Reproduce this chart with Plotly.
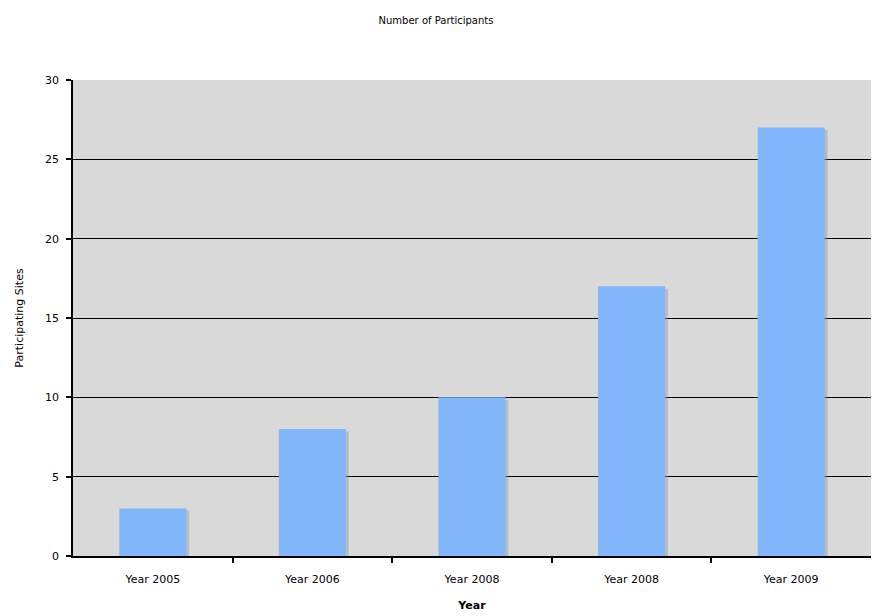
import plotly.graph_objects as go

categories = ["Year 2005", "Year 2006", "Year 2008", "Year 2008", "Year 2009"]
values = [3, 8, 10, 17, 27]
positions = list(range(len(categories)))
y_ticks = [0, 5, 10, 15, 20, 25, 30]

bar_w = 0.42
shadow_dx = 0.018

fig = go.Figure()
# soft shadow behind bars
fig.add_trace(go.Bar(
    x=positions, y=[v - 0.15 for v in values],
    width=bar_w, offset=-bar_w / 2 + shadow_dx,
    marker=dict(color="rgba(150,150,150,0.45)", line=dict(width=0)),
    hoverinfo="skip", showlegend=False,
))
fig.add_trace(go.Bar(
    x=positions, y=values,
    width=bar_w, offset=-bar_w / 2,
    marker=dict(color="#82b6fa", line=dict(width=0)),
    showlegend=False, name="Participating Sites",
))

fig.update_layout(
    width=872, height=616,
    margin=dict(l=73, r=1, t=80, b=60),
    paper_bgcolor="white",
    plot_bgcolor="#d9d9d9",
    barmode="overlay",
    font=dict(family="DejaVu Sans", size=11, color="black"),
    title=dict(text="Number of Participants", x=0.5, xanchor="center",
               y=0.966, yanchor="middle", font=dict(size=10)),
    xaxis=dict(
        range=[-0.5, len(categories) - 0.5],
        tickmode="array", tickvals=positions, ticktext=categories,
        showgrid=False, zeroline=False,
        showline=True, linecolor="black", linewidth=1.5,
        ticks="", tickfont=dict(size=11), ticklabelstandoff=12,
        title=dict(text="<b>Year</b>", font=dict(size=11), standoff=16),
        minor=dict(tickvals=[p + 0.5 for p in positions[:-1]], ticks="outside",
                   ticklen=5, tickcolor="black", tickwidth=1.5),
    ),
    yaxis=dict(
        range=[0, 30], tickmode="array", tickvals=y_ticks,
        showgrid=True, gridcolor="black", gridwidth=1.3,
        zeroline=False,
        showline=True, linecolor="black", linewidth=1.5,
        ticks="outside", ticklen=5, tickcolor="black", tickwidth=1.5,
        tickfont=dict(size=11), ticklabelstandoff=5,
        title=dict(text="Participating Sites", font=dict(size=11), standoff=19),
    ),
)

fig.write_html("out.html")
